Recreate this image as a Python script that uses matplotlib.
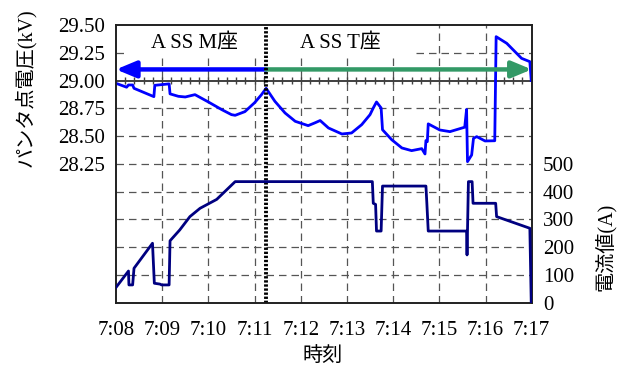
import matplotlib
matplotlib.use("Agg")
import matplotlib.pyplot as plt
import numpy as np
from matplotlib.patches import Rectangle

# ---- data (minutes after 7:08) ----
v_time = [0.00, 0.23, 0.27, 0.36, 0.39, 0.82, 0.84, 1.15, 1.17, 1.35, 1.50, 1.71, 2.00, 2.29,
          2.50, 2.58, 2.79, 3.00, 3.15, 3.25, 3.44, 3.66, 3.88, 4.16, 4.30, 4.42, 4.60, 4.89,
          5.10, 5.32, 5.50, 5.57, 5.64, 5.74, 5.77, 5.97, 6.19, 6.40, 6.62, 6.69, 6.71, 6.74,
          6.76, 7.01, 7.23, 7.55, 7.59, 7.61, 7.70, 7.74, 7.81, 7.99, 8.20, 8.23, 8.46, 8.78,
          8.96, 8.99]
v_kv = [28.975, 28.94, 28.96, 28.96, 28.93, 28.855, 28.957, 28.97, 28.88, 28.858, 28.852,
        28.873, 28.807, 28.738, 28.693, 28.687, 28.72, 28.80, 28.873, 28.93, 28.813, 28.708,
        28.633, 28.594, 28.618, 28.64, 28.573, 28.519, 28.528, 28.603, 28.693, 28.753, 28.807,
        28.753, 28.557, 28.467, 28.393, 28.369, 28.387, 28.339, 28.46, 28.45, 28.61, 28.555,
        28.54, 28.58, 28.74, 28.27, 28.33, 28.48, 28.495, 28.456, 28.458, 29.395, 29.335,
        29.20, 29.17, 29.0]

i_time = [0.00, 0.27, 0.28, 0.36, 0.39, 0.79, 0.83, 0.95, 0.99, 1.15, 1.17, 1.38, 1.60, 1.82,
          2.18, 2.58, 5.55, 5.57, 5.62, 5.64, 5.74, 5.77, 6.71, 6.73, 6.76, 7.59, 7.60, 7.63,
          7.71, 7.73, 8.22, 8.24, 8.96, 8.99]
i_amp = [55, 114, 64, 64, 124, 214, 70, 67, 64, 64, 223, 262, 310, 340, 372, 436, 436, 358,
         354, 258, 258, 420, 420, 358, 258, 258, 172, 436, 436, 358, 358, 310, 268, 0]

x_labels = ["7:08", "7:09", "7:10", "7:11", "7:12", "7:13", "7:14", "7:15", "7:16", "7:17"]
v_ticks = [28.25, 28.50, 28.75, 29.00, 29.25, 29.50]
i_ticks = [0, 100, 200, 300, 400, 500]
switch_time = 3.25
arrow_level = 29.10
label_M = "A SS M座"
label_T = "A SS T座"

fam = ["Liberation Serif", "Noto Sans CJK JP"]
plt.rcParams["font.family"] = fam

W, H = 623, 365
fig = plt.figure(figsize=(W / 100, H / 100), dpi=100)
L, R, T, B = 116, 531.7, 25, 302.7
ax = fig.add_axes([L / W, 1 - B / H, (R - L) / W, (B - T) / H])
ax.set_xlim(0, 9)
ax.set_ylim(27.0, 29.5)

grid_kw = dict(color="#555555", lw=0.9, linestyle=(0, (6, 4)), zorder=0.5)
for y in np.arange(27.25, 29.5, 0.25):
    if abs(y - 29.0) > 1e-6:
        ax.axhline(y, **grid_kw)
for x in range(1, 9):
    ax.axvline(x, **grid_kw)

# white boxes behind labels
ax.add_patch(Rectangle((0.26, 29.20), 6.41 - 0.26, 0.30, facecolor="white",
                       edgecolor="none", zorder=1))

# 29.00 line with minor ticks
ax.axhline(29.0, color="#404040", lw=1.4, zorder=2)
ax.vlines(np.arange(0.2, 9.0, 0.2), 29.0 - 0.035, 29.0 + 0.035, color="#404040",
          lw=1.0, zorder=2)

ax.plot(v_time, v_kv, color="#0000ff", lw=2.0, zorder=4, solid_joinstyle="round")

ax.axvline(switch_time, color="black", lw=2.8, linestyle=(0, (0.6, 0.45)), zorder=5)

ax.annotate("", xy=(0, arrow_level), xytext=(switch_time, arrow_level),
            arrowprops=dict(arrowstyle="-|>,head_length=1.2,head_width=0.5",
                            color="#0000ff", lw=3.2, shrinkA=0, shrinkB=0), zorder=4)
ax.annotate("", xy=(9, arrow_level), xytext=(switch_time, arrow_level),
            arrowprops=dict(arrowstyle="-|>,head_length=1.2,head_width=0.5",
                            color="#339966", lw=3.2, shrinkA=0, shrinkB=0), zorder=4)

ax.text(1.70, 29.34, label_M, ha="center", va="center", fontsize=15, zorder=6)
ax.text(4.85, 29.34, label_T, ha="center", va="center", fontsize=15, zorder=6)

ax.set_xticks(range(10))
ax.set_xticklabels(x_labels, fontsize=15)
ax.set_yticks(v_ticks)
ax.set_yticklabels([f"{v:.2f}" for v in v_ticks], fontsize=15)
ax.tick_params(axis="both", length=0, pad=8)
ax.tick_params(axis="x", pad=13)

ax2 = ax.twinx()
ax2.set_ylim(0, 1000)
ax2.plot(i_time, i_amp, color="#000080", lw=2.0, zorder=4, solid_joinstyle="round")
ax2.set_yticks(i_ticks)
ax2.set_yticklabels([str(v) for v in i_ticks], fontsize=15)
ax2.tick_params(axis="y", length=0, pad=8)

for a in (ax, ax2):
    for s in a.spines.values():
        s.set_color("#202020")
        s.set_linewidth(1.2)

fig.text(25 / W, 1 - 88 / H, "パンタ点電圧(kV)", rotation=90, ha="center", va="center",
         fontsize=14.5)
fig.text(605 / W, 1 - 247 / H, "電流値(A)", rotation=90, ha="center", va="center",
         fontsize=14.5)
fig.text(323 / W, 1 - 356 / H, "時刻", ha="center", va="center", fontsize=14.5)

fig.savefig("out.png", dpi=100)
